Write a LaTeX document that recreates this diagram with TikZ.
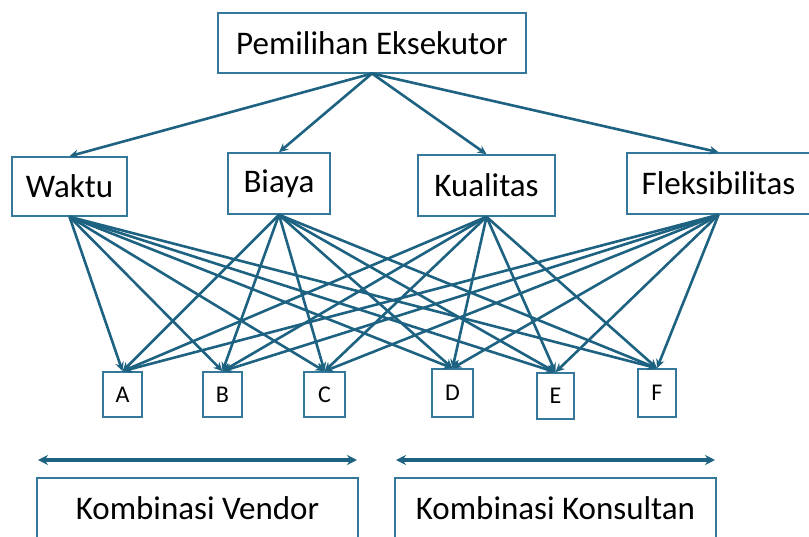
\documentclass[tikz,border=0pt]{standalone}
\usepackage{fontspec}
\setmainfont{Carlito}
\usetikzlibrary{arrows.meta}
\definecolor{lineblue}{RGB}{30,98,130}
\definecolor{boxblue}{RGB}{52,120,155}
\begin{document}
\begin{tikzpicture}[x=1pt,y=-1pt,
  box/.style={draw=boxblue,line width=1.6pt,rectangle,inner sep=0pt,fill=white,text=black},
  bigtxt/.style={font=\fontsize{33}{36}\selectfont},
  smalltxt/.style={font=\fontsize{24}{26}\selectfont},
  conn/.style={draw=lineblue,line width=2.6pt,-{Stealth[length=9pt,width=8.5pt]}},
  span/.style={draw=lineblue,line width=3.4pt,{Stealth[length=10pt,width=10pt]}-{Stealth[length=10pt,width=10pt]}}]
\useasboundingbox (0,0) rectangle (809,536);
\clip (0,0) rectangle (809,536);
% nodes
\node[box,bigtxt,minimum width=308pt,minimum height=60pt] (top) at (372,42.7) {Pemilihan Eksekutor};
\node[box,bigtxt,minimum width=115pt,minimum height=59pt] (waktu) at (69.5,186.5) {Waktu};
\node[box,bigtxt,minimum width=102pt,minimum height=61pt] (biaya) at (279,183.5) {Biaya};
\node[box,bigtxt,minimum width=137pt,minimum height=61pt] (kual) at (486.5,185.5) {Kualitas};
\node[box,bigtxt,minimum width=183pt,minimum height=61pt] (flex) at (718.5,183.5) {Fleksibilitas};
\node[box,smalltxt,minimum width=39pt,minimum height=45pt] (A) at (122.5,394.5) {A};
\node[box,smalltxt,minimum width=39pt,minimum height=45pt] (B) at (222.5,394.5) {B};
\node[box,smalltxt,minimum width=41pt,minimum height=45pt] (C) at (324.5,394.5) {C};
\node[box,smalltxt,minimum width=41pt,minimum height=48pt] (D) at (452.5,393) {D};
\node[box,smalltxt,minimum width=37pt,minimum height=46pt] (E) at (555.5,396) {E};
\node[box,smalltxt,minimum width=38pt,minimum height=48pt] (F) at (657,393) {F};
\node[box,bigtxt,minimum width=321pt,minimum height=60pt] (vendor) at (197.5,508) {Kombinasi Vendor};
\node[box,bigtxt,minimum width=321pt,minimum height=60pt] (kons) at (555.5,508) {Kombinasi Konsultan};
% top connectors
\foreach \c in {waktu,biaya,kual,flex}
  \draw[conn] (top.south) -- (\c.north);
% criteria to options
\foreach \c in {waktu,biaya,kual,flex}
  \foreach \o in {A,B,C,D,E,F}
    \draw[conn] (\c.south) -- (\o.north);
% spans
\coordinate (v1) at (38,460);
\coordinate (v2) at (357,460);
\coordinate (k1) at (396,460);
\coordinate (k2) at (715,460);
\draw[span] (v1) -- (v2);
\draw[span] (k1) -- (k2);
\end{tikzpicture}
\end{document}
